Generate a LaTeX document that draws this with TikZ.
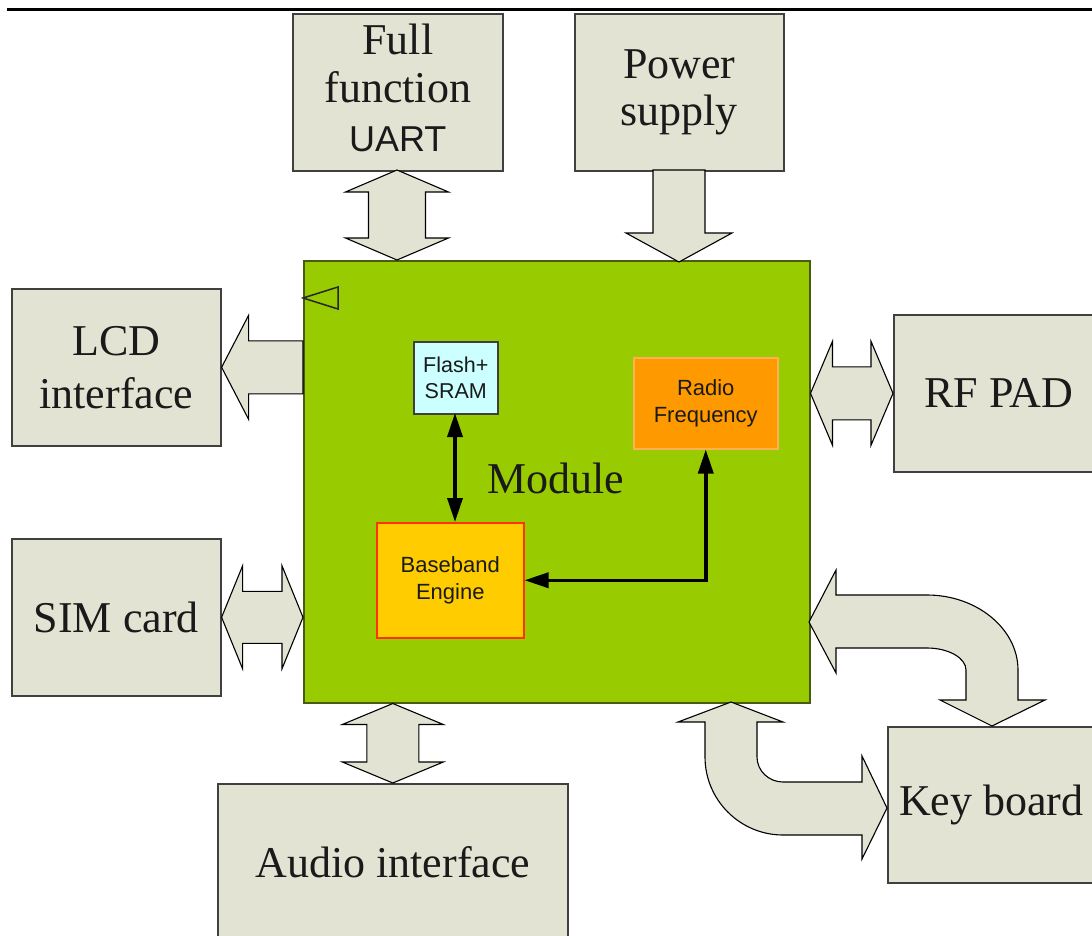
\documentclass[tikz,border=0pt]{standalone}
\usepackage{fontspec}
\setmainfont{Liberation Serif}
\newfontfamily\arialf{Liberation Sans}
\usetikzlibrary{calc,arrows.meta}
\definecolor{boxfill}{HTML}{E3E3D4}
\definecolor{boxline}{HTML}{404040}
\definecolor{modgreen}{HTML}{99CC00}
\definecolor{modline}{HTML}{4A5A10}
\definecolor{flashfill}{HTML}{CCFFFF}
\definecolor{rffill}{HTML}{FF9900}
\definecolor{rfline}{HTML}{FFB050}
\definecolor{bbfill}{HTML}{FFCC00}
\definecolor{bbline}{HTML}{FF3300}
\definecolor{txtdark}{HTML}{1A1A1A}
% vertical double block arrow: #1 top, #2 bottom, #3 half shaft, #4 half head, #5 head length
\newcommand{\vdblarrow}[5]{%
  \draw[blk] (#1) -- ($(#1)+(#4,#5)$) -- ($(#1)+(#3,#5)$) -- ($(#2)+(#3,-#5)$) -- ($(#2)+(#4,-#5)$) -- (#2)
    -- ($(#2)+(-#4,-#5)$) -- ($(#2)+(-#3,-#5)$) -- ($(#1)+(-#3,#5)$) -- ($(#1)+(-#4,#5)$) -- cycle;}
% horizontal double block arrow: #1 left, #2 right
\newcommand{\hdblarrow}[5]{%
  \draw[blk] (#1) -- ($(#1)+(#5,-#4)$) -- ($(#1)+(#5,-#3)$) -- ($(#2)+(-#5,-#3)$) -- ($(#2)+(-#5,-#4)$) -- (#2)
    -- ($(#2)+(-#5,#4)$) -- ($(#2)+(-#5,#3)$) -- ($(#1)+(#5,#3)$) -- ($(#1)+(#5,#4)$) -- cycle;}
\begin{document}
\begin{tikzpicture}[x=1pt,y=-1pt,
  extbox/.style={draw=boxline,line width=1.6pt,fill=boxfill,align=center,text=txtdark,inner sep=0pt,anchor=north west},
  serif44/.style={font=\fontsize{44}{48}\selectfont},
  blk/.style={draw=black,line width=1.1pt,fill=boxfill,line join=miter},
  inbox/.style={line width=1.5pt,align=center,inner sep=0pt,anchor=north west,text=txtdark,font=\arialf\fontsize{22}{26.7}\selectfont},
  inarrow/.style={line width=3.5pt,draw=black,{Triangle[length=24pt,width=15pt]}-{Triangle[length=24pt,width=15pt]}}]
\useasboundingbox (0,0) rectangle (1092,936);
\clip (0,0) rectangle (1092,936);

% top rule
\draw[line width=3pt] (7,10) -- (1092,10);

% external boxes
\node[extbox,serif44,minimum width=210pt,minimum height=157pt,text depth=10pt] (uart) at (292,13)
  {Full\\function\\[1pt]{\arialf\fontsize{36}{48}\selectfont UART}};
\node[extbox,minimum width=209pt,minimum height=157pt,font=\fontsize{44}{47}\selectfont] (power) at (574,13) {Power\\supply};
\node[extbox,minimum width=209pt,minimum height=157pt,font=\fontsize{44}{53}\selectfont] (lcd) at (11,288) {LCD\\interface};
\node[extbox,serif44,minimum width=209pt,minimum height=157pt] (sim) at (11,538) {SIM card};
\node[extbox,serif44,minimum width=210pt,minimum height=157pt] (rfpad) at (893,314) {RF PAD};
\node[extbox,serif44,minimum width=207pt,minimum height=156pt] (keyb) at (887,726) {Key board};
\node[extbox,serif44,minimum width=350pt,minimum height=157pt] (audio) at (217,783) {Audio interface};

% module
\node[draw=modline,line width=1.5pt,fill=modgreen,minimum width=506pt,minimum height=442pt,anchor=north west,inner sep=0pt] (module) at (303,260) {};
\draw[line width=1.5pt,draw=black!85] (338,287) -- (303,298) -- (338,309) -- cycle;

% inner blocks
\node[inbox,draw=boxline,fill=flashfill,minimum width=84pt,minimum height=72pt,font=\arialf\fontsize{21.5}{26.7}\selectfont] (flash) at (413,341) {Flash+\\SRAM};
\node[inbox,draw=rfline,fill=rffill,minimum width=144pt,minimum height=91pt] (radio) at (633,357) {Radio\\Frequency};
\node[inbox,draw=bbline,fill=bbfill,minimum width=147pt,minimum height=115pt] (base) at (376,522) {Baseband\\Engine};
\node[font=\fontsize{44}{48}\selectfont,text=txtdark,inner sep=0pt] (modlabel) at (556,478) {Module};

% inner connectors
\coordinate (fs) at (455,413);
\coordinate (bn) at (455,522);
\draw[inarrow] (fs) -- (bn);
\draw[inarrow] (base.east) -| (radio.south);

% block arrows
\coordinate (ua1) at (397,170);
\coordinate (ua2) at (397,260);
\vdblarrow{ua1}{ua2}{28.5}{51.5}{22}

\coordinate (pw1) at (679,170);
\coordinate (pw2) at (679,262);
\draw[blk] ($(pw1)+(-26,0)$) -- ($(pw1)+(26,0)$) -- ($(pw2)+(26,-29)$) -- ($(pw2)+(53,-29)$) -- (pw2)
  -- ($(pw2)+(-53,-29)$) -- ($(pw2)+(-26,-29)$) -- cycle;

\coordinate (lc1) at (lcd.east);
\coordinate (lc2) at (lcd.east -| module.west);
\draw[blk] (lc1) -- ($(lc1)+(27,-52)$) -- ($(lc1)+(27,-26.5)$) -- ($(lc2)+(0,-26.5)$) -- ($(lc2)+(0,26.5)$)
  -- ($(lc1)+(27,26.5)$) -- ($(lc1)+(27,52)$) -- cycle;

\coordinate (sm1) at (sim.east);
\coordinate (sm2) at (sim.east -| module.west);
\hdblarrow{sm1}{sm2}{26}{51.5}{21}

\coordinate (rf1) at (rfpad.west -| module.east);
\coordinate (rf2) at (rfpad.west);
\hdblarrow{rf1}{rf2}{26.5}{52}{22}

\coordinate (au1) at (audio.north |- module.south);
\coordinate (au2) at (audio.north);
\vdblarrow{au1}{au2}{26}{50.5}{21}

% curved arrow module <-> key board (upper)
\coordinate (k1a) at (809,622);
\coordinate (k1b) at (992,726);
\draw[blk] (k1a) -- (836,570) -- (836,595) -- (927,595)
  .. controls (977,595) and (1018,629) .. (1018,670) -- (1018,700) -- (1045,700) -- (k1b)
  -- (940,700) -- (966,700) -- (966,670) .. controls (966,658) and (948.5,648) .. (927,648)
  -- (836,648) -- (836,673) -- cycle;

% curved arrow module <-> key board (lower)
\coordinate (k2a) at (731,702);
\coordinate (k2b) at (887,808);
\draw[blk] (k2a) -- (783,722) -- (757,722) -- (757,757) .. controls (757,771) and (769,782) .. (783,782)
  -- (862,782) -- (862,756) -- (k2b) -- (862,859) -- (862,835) -- (783,835)
  .. controls (740,835) and (705,800) .. (705,757) -- (705,722) -- (678,722) -- cycle;
\end{tikzpicture}
\end{document}
